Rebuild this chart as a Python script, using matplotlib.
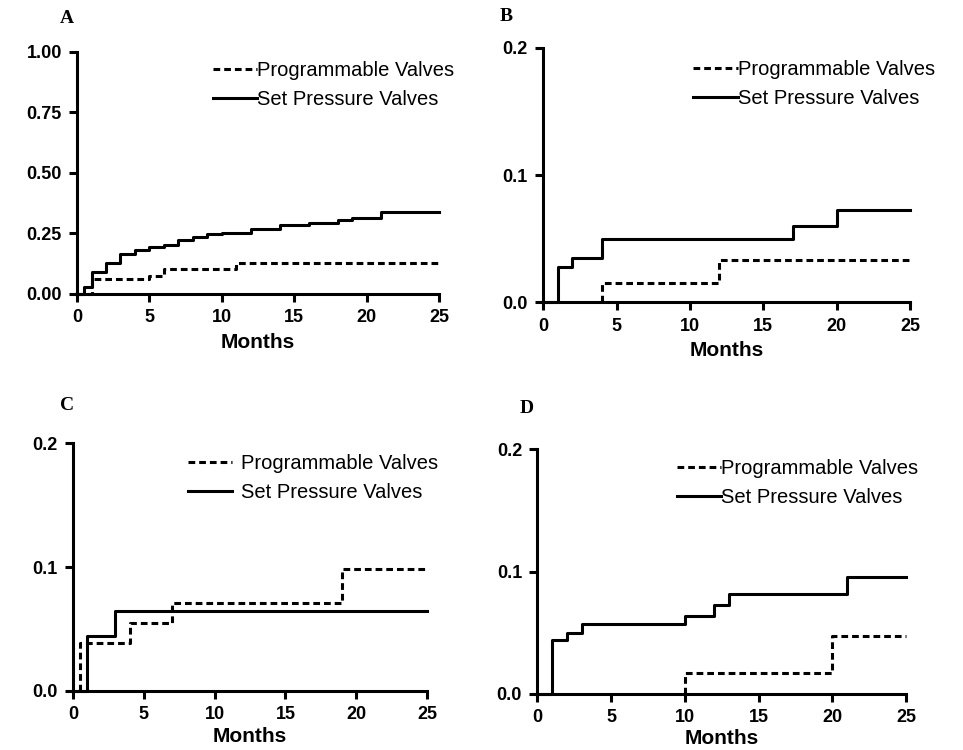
import matplotlib.pyplot as plt

# Cumulative incidence curves (months, proportion)
a_prog_t = [0, 1, 5, 6, 11, 25]
a_prog_y = [0, 0.062, 0.075, 0.105, 0.128, 0.128]
a_set_t = [0, 0.45, 1, 2, 3, 4, 5, 6, 7, 8, 9, 10, 12, 14, 16, 18, 19, 21, 25]
a_set_y = [0, 0.03, 0.089, 0.128, 0.165, 0.182, 0.193, 0.203, 0.224, 0.235, 0.246,
           0.252, 0.27, 0.283, 0.293, 0.304, 0.314, 0.339, 0.339]

b_prog_t = [4, 4, 12, 25]
b_prog_y = [0, 0.015, 0.033, 0.033]
b_set_t = [0, 1, 2, 4, 17, 20, 25]
b_set_y = [0, 0.028, 0.035, 0.05, 0.06, 0.0725, 0.0725]

c_prog_t = [0.5, 0.5, 4, 7, 19, 25]
c_prog_y = [0, 0.039, 0.055, 0.071, 0.0985, 0.0985]
c_set_t = [0, 1, 3, 25]
c_set_y = [0, 0.044, 0.0646, 0.0646]

d_prog_t = [10, 10, 20, 25]
d_prog_y = [0, 0.0174, 0.0477, 0.0477]
d_set_t = [0, 1, 2, 3, 10, 12, 13, 21, 25]
d_set_y = [0, 0.044, 0.05, 0.057, 0.064, 0.073, 0.082, 0.0956, 0.0956]

x_ticks = [0, 5, 10, 15, 20, 25]
a_yticks = [0, 0.25, 0.5, 0.75, 1.0]
a_ylabels = ['0.00', '0.25', '0.50', '0.75', '1.00']
small_yticks = [0, 0.1, 0.2]
small_ylabels = ['0.0', '0.1', '0.2']

panels = [
    # letter, rect, prog, set, yticks, ylabels, ymax, legend anchor, text pad, letter pos, labelpad
    ('A', [0.080, 0.608, 0.376, 0.323], (a_prog_t, a_prog_y), (a_set_t, a_set_y),
     a_yticks, a_ylabels, 1.0, (0.376, 0.962), 0.0, (0.069, 0.975), 5),
    ('B', [0.564, 0.597, 0.381, 0.339], (b_prog_t, b_prog_y), (b_set_t, b_set_y),
     small_yticks, small_ylabels, 0.2, (0.409, 0.952), 0.0, (0.526, 0.978), 5),
    ('C', [0.0758, 0.0787, 0.3676, 0.3306], (c_prog_t, c_prog_y), (c_set_t, c_set_y),
     small_yticks, small_ylabels, 0.2, (0.325, 0.955), 0.45, (0.070, 0.460), 3),
    ('D', [0.558, 0.0747, 0.383, 0.3266], (d_prog_t, d_prog_y), (d_set_t, d_set_y),
     small_yticks, small_ylabels, 0.2, (0.379, 0.958), 0.0, (0.547, 0.455), 2),
]

fig = plt.figure(figsize=(9.63, 7.5), dpi=100)

for letter, rect, prog, sett, yt, yl, ymax, anchor, tpad, lpos, lpad in panels:
    ax = fig.add_axes(rect)
    ax.step(prog[0], prog[1], where='post', color='black', lw=2.2,
            dashes=(2.2, 1.3), clip_on=False, label='Programmable Valves')
    ax.step(sett[0], sett[1], where='post', color='black', lw=2.2,
            clip_on=False, label='Set Pressure Valves')
    ax.set_xlim(0, 25)
    ax.set_ylim(0, ymax)
    ax.set_xticks(x_ticks)
    ax.set_yticks(yt)
    ax.set_yticklabels(yl)
    for s in ['top', 'right']:
        ax.spines[s].set_visible(False)
    for s in ['left', 'bottom']:
        ax.spines[s].set_linewidth(2.2)
    ax.tick_params(direction='out', length=6, width=2.2, pad=5)
    for lab in ax.get_xticklabels() + ax.get_yticklabels():
        lab.set_fontfamily('Liberation Sans')
        lab.set_fontweight('bold')
        lab.set_fontsize(13)
    ax.set_xlabel('Months', fontfamily='Liberation Sans', fontweight='bold',
                  fontsize=15, labelpad=lpad)
    ax.legend(loc='upper left', bbox_to_anchor=anchor, frameon=False,
              borderpad=0, borderaxespad=0, handlelength=2.2,
              handletextpad=tpad, labelspacing=0.5,
              prop={'family': 'Liberation Sans', 'size': 14.5})
    fig.text(lpos[0], lpos[1], letter, fontfamily='Liberation Serif',
             fontweight='bold', fontsize=14, ha='center', va='center')

fig.savefig('out.png', dpi=100)
